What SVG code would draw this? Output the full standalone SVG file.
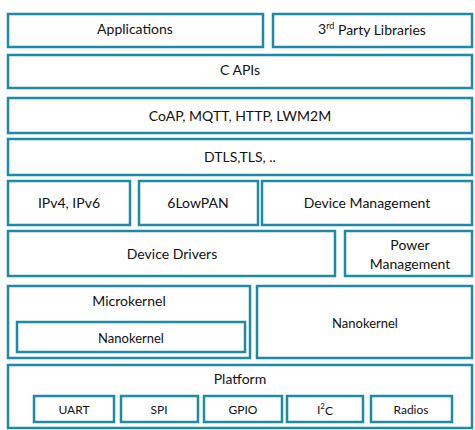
<svg xmlns="http://www.w3.org/2000/svg" width="475" height="430" viewBox="0 0 475 430">
<style>
rect{fill:#fff;stroke:#1e8aa6;stroke-width:2.5}
text{font-family:Lato,"Open Sans","Liberation Sans",sans-serif;font-size:14px;fill:#111;text-anchor:middle;dominant-baseline:central}
.s{font-size:12px}
.m{font-size:13px}
</style>
<rect x="0" y="0" width="475" height="430" style="stroke:none"/>
<g id="applications"><rect x="8" y="14" width="255" height="33"/><text x="135" y="28.5">Applications</text></g>
<g id="third-party"><rect x="273" y="14" width="199" height="33"/><text x="372" y="28.5">3<tspan font-size="9" dy="-4">rd</tspan><tspan dy="4"> Party Libraries</tspan></text></g>
<g id="c-apis"><rect x="8" y="55" width="464" height="33"/><text x="240" y="69.5">C APIs</text></g>
<g id="protocols"><rect x="8" y="98" width="464" height="35"/><text x="240" y="115">CoAP, MQTT, HTTP, LWM2M</text></g>
<g id="dtls"><rect x="8" y="139" width="464" height="36"/><text x="240" y="156.5">DTLS,TLS, ..</text></g>
<g id="ipv4"><rect x="8" y="181" width="122" height="44"/><text x="69" y="202.5">IPv4, IPv6</text></g>
<g id="6lowpan"><rect x="139" y="181" width="119" height="44"/><text x="198" y="202.5">6LowPAN</text></g>
<g id="device-management"><rect x="262" y="181" width="210" height="44"/><text x="367" y="202.5">Device Management</text></g>
<g id="device-drivers"><rect x="8" y="231" width="327" height="45"/><text x="172" y="253.5">Device Drivers</text></g>
<g id="power-management"><rect x="345" y="231" width="127" height="45"/><text x="410" y="244.5">Power</text><text x="410" y="263.5">Management</text></g>
<g id="microkernel"><rect x="8" y="286" width="242" height="72"/><text x="129" y="300.5">Microkernel</text>
<g id="nanokernel-inner"><rect x="17" y="322" width="228" height="30"/><text x="131" y="337.5" class="m">Nanokernel</text></g></g>
<g id="nanokernel"><rect x="257" y="286" width="215" height="72"/><text x="365" y="322.5" class="m">Nanokernel</text></g>
<g id="platform"><rect x="8" y="365" width="464" height="63"/><text x="240" y="378.5">Platform</text>
<g id="uart"><rect x="34" y="396" width="80" height="26"/><text x="74" y="409.5" class="s">UART</text></g>
<g id="spi"><rect x="121" y="396" width="77" height="26"/><text x="159" y="409.5" class="s">SPI</text></g>
<g id="gpio"><rect x="204" y="396" width="78" height="26"/><text x="243" y="409.5" class="s">GPIO</text></g>
<g id="i2c"><rect x="287" y="396" width="76" height="26"/><text x="325" y="409.5" class="s">I<tspan font-size="8" dy="-4">2</tspan><tspan dy="4">C</tspan></text></g>
<g id="radios"><rect x="371" y="396" width="81" height="26"/><text x="411" y="409.5" class="s">Radios</text></g>
</g>
<g id="connectors"/>
</svg>
